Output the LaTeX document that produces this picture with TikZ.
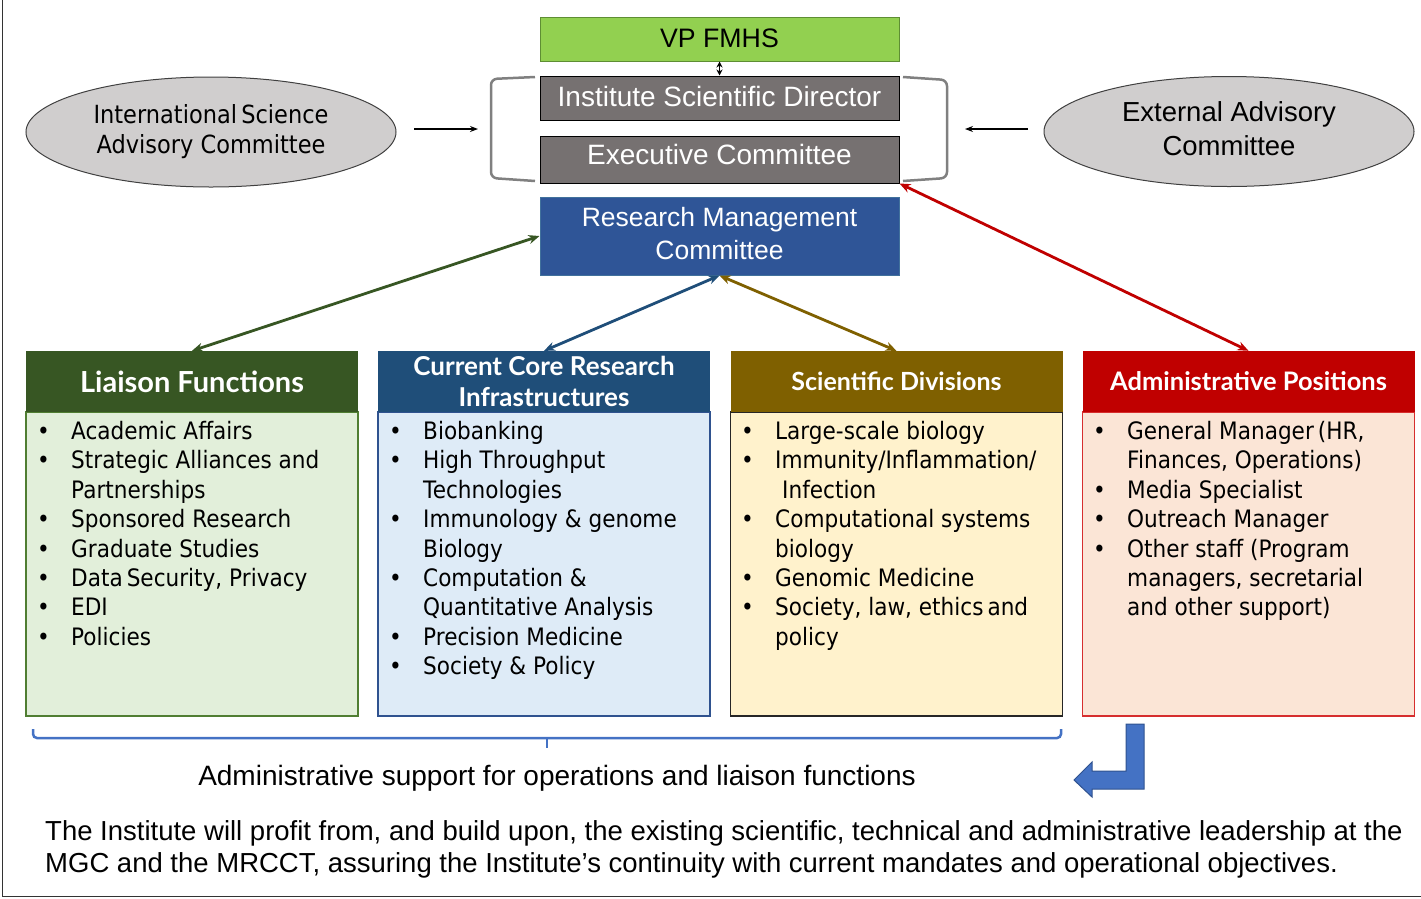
\documentclass[tikz,border=0pt]{standalone}
\usepackage{fontspec}
\setmainfont{Liberation Sans}
\newfontfamily\tah[FakeStretch=0.9]{DejaVu Sans}
\newfontfamily\gill{Lato}
\usetikzlibrary{shapes.geometric,arrows.meta}

\definecolor{vpgreen}{HTML}{92D050}
\definecolor{vpedge}{HTML}{5E8E33}
\definecolor{dirgray}{HTML}{767171}
\definecolor{rmcblue}{HTML}{2F5597}
\definecolor{rmcedge}{HTML}{41719C}
\definecolor{ellgray}{HTML}{D0CECE}
\definecolor{elledge}{HTML}{404040}
\definecolor{brkgray}{HTML}{808080}
\definecolor{lfhead}{HTML}{375623}
\definecolor{lfbody}{HTML}{E2EFDA}
\definecolor{lfedge}{HTML}{507E32}
\definecolor{cchead}{HTML}{1F4E79}
\definecolor{ccbody}{HTML}{DEEBF7}
\definecolor{ccedge}{HTML}{2F528F}
\definecolor{sdhead}{HTML}{7F6000}
\definecolor{sdbody}{HTML}{FFF2CC}
\definecolor{sdedge}{HTML}{262626}
\definecolor{aphead}{HTML}{C00000}
\definecolor{apbody}{HTML}{FBE5D6}
\definecolor{apedge}{HTML}{D62E2E}
\definecolor{supblue}{HTML}{4472C4}
\definecolor{supedge}{HTML}{2F528F}

\newcommand\itm{\llap{\makebox[34pt][l]{\textbullet}}}

\tikzset{
  topbox/.style={draw, line width=1pt, minimum width=359, inner sep=0,
    font=\fontsize{28}{34}\selectfont, align=center},
  advisory/.style={ellipse, draw=elledge, fill=ellgray, line width=1pt,
    minimum width=370, minimum height=110, inner sep=0, align=center},
  headbox/.style={minimum width=332, minimum height=61, inner sep=0,
    text=white, align=center},
  bodybox/.style={draw, line width=1.5pt, minimum width=332, minimum height=304, inner sep=0},
  itemlist/.style={anchor=north west, inner sep=0, align=left,
    font=\tah\fontsize{24}{29.4}\selectfont},
  link/.style={line width=2.8pt, {Stealth[length=11pt,width=9pt]}-{Stealth[length=11pt,width=9pt]}},
  feed/.style={line width=1.2pt, -{Stealth[length=8pt,width=6pt]}},
  bracket/.style={draw=brkgray, line width=2.5pt, rounded corners=6pt},
}

\begin{document}
\begin{tikzpicture}[x=1pt,y=-1pt]
\useasboundingbox (0,0) rectangle (1421,898);

% outer frame
\draw[line width=1pt, black!80] (2,0) -- (2,896) -- (1421,896);

% leadership column
\node[topbox, draw=vpedge, fill=vpgreen, minimum height=44, font=\fontsize{26.7}{32}\selectfont] (vp) at (719.5,39) {\raisebox{1pt}{VP FMHS}};
\node[topbox, draw=black, fill=dirgray, text=white, minimum height=44] (isd) at (719.5,98) {\raisebox{4pt}{Institute Scientific Director}};
\node[topbox, draw=black, fill=dirgray, text=white, minimum height=47] (ex) at (719.5,159.5) {\raisebox{10pt}{Executive Committee}};
\node[topbox, draw=rmcedge, fill=rmcblue, text=white, minimum height=78, font=\fontsize{26.5}{34}\selectfont] (rmc) at (719.5,236) {\raisebox{2pt}{\begin{tabular}{@{}c@{}}Research Management\\[-0.5pt]Committee\end{tabular}}};

\draw[line width=1.5pt, {Stealth[length=6pt,width=6pt]}-{Stealth[length=6pt,width=6pt]}] (vp.south) -- (isd.north);

% bracket round the director and the executive committee
\draw[bracket] (535,77) -- (491,79) -- (491,178) -- (535,181);
\draw[bracket] (903,77) -- (947,80) -- (947,178) -- (903,181);

% advisory committees
\node[advisory, font=\tah\fontsize{25}{30}\selectfont] (isac) at (211,132) {\raisebox{12pt}{\begin{tabular}{@{}c@{}}International\,Science\\Advisory Committee\end{tabular}}};
\node[advisory, font=\fontsize{27.5}{34}\selectfont] (eac) at (1229,131.5) {\raisebox{3pt}{\begin{tabular}{@{}c@{}}External Advisory\\Committee\end{tabular}}};

\coordinate (isacout) at (414,129);
\coordinate (isacin) at (478,129);
\coordinate (eacout) at (1028,129);
\coordinate (eacin) at (965,129);
\draw[feed] (isacout) -- (isacin);
\draw[feed] (eacout) -- (eacin);

% functional boxes
\node[bodybox, draw=lfedge, fill=lfbody] (lb) at (192,564) {};
\node[headbox, fill=lfhead, font=\gill\bfseries\fontsize{29}{30}\selectfont] (lh) at (192,381.5) {Liaison Functions};

\node[bodybox, draw=ccedge, fill=ccbody] (cb) at (544,564) {};
\node[headbox, fill=cchead, font=\gill\bfseries\fontsize{26}{31}\selectfont] (ch) at (544,381.5) {Current Core Research\\Infrastructures};

\node[bodybox, draw=sdedge, fill=sdbody] (sb) at (896.5,564) {};
\node[headbox, fill=sdhead, font=\gill\bfseries\fontsize{25}{30}\selectfont] (sh) at (896.5,381.5) {Scientific Divisions};

\node[bodybox, draw=apedge, fill=apbody] (ab) at (1248.5,564) {};
\node[headbox, fill=aphead, font=\gill\bfseries\fontsize{25.5}{30}\selectfont] (ah) at (1248.5,381.5) {Administrative Positions};

% item lists
\node[itemlist] (lflist) at (71,421) {\itm Academic Affairs\\ \itm Strategic Alliances and\\ Partnerships\\ \itm Sponsored Research\\ \itm Graduate Studies\\ \itm Data\,Security, Privacy\\ \itm EDI\\ \itm Policies};
\node[itemlist] (cclist) at (423,421) {\itm Biobanking\\ \itm High Throughput\\ Technologies\\ \itm Immunology \& genome\\ Biology\\ \itm Computation \&\\ Quantitative Analysis\\ \itm Precision Medicine\\ \itm Society \& Policy};
\node[itemlist] (sdlist) at (775,421) {\itm Large-scale biology\\ \itm Immunity/Inflammation/\\ \hspace{7pt}Infection\\ \itm Computational systems\\ biology\\ \itm Genomic Medicine\\ \itm Society, law, ethics\,and\\ policy};
\node[itemlist] (aplist) at (1127,421) {\itm General Manager\,(HR,\\ Finances, Operations)\\ \itm Media Specialist\\ \itm Outreach Manager\\ \itm Other staff (Program\\ managers, secretarial\\ and other support)};

% reporting lines
\draw[link, draw=lfhead] (lh.north) -- (rmc.west);
\draw[link, draw=cchead] (ch.north) -- (rmc.south);
\draw[link, draw=sdhead] (sh.north) -- (rmc.south);
\draw[link, draw=aphead] (ah.north) -- (ex.south east);

% administrative support brace
\draw[draw=supblue, line width=2.5pt, rounded corners=4pt] (33,729) -- (33,738) -- (1061,738) -- (1061,729);
\draw[draw=supblue, line width=2.5pt] (547,738) -- (547,748);
\node[font=\fontsize{28}{32}\selectfont] (support) at (557,778) {Administrative support for operations and liaison functions};

% bent arrow from the administrative positions
\filldraw[fill=supblue, draw=supedge, line width=1pt]
  (1126,724) -- (1144,724) -- (1144,789) -- (1092,789) -- (1092,797) -- (1074,780)
  -- (1092,762) -- (1092,771) -- (1126,771) -- cycle;

% closing statement
\node[anchor=west, align=left, inner sep=0, font=\fontsize{27.5}{32}\selectfont] (closing) at (45,849)
  {The Institute will profit from, and build upon, the existing scientific, technical and administrative leadership at the\\
   MGC and the MRCCT, assuring the Institute’s continuity with current mandates and operational objectives.};
\end{tikzpicture}
\end{document}
